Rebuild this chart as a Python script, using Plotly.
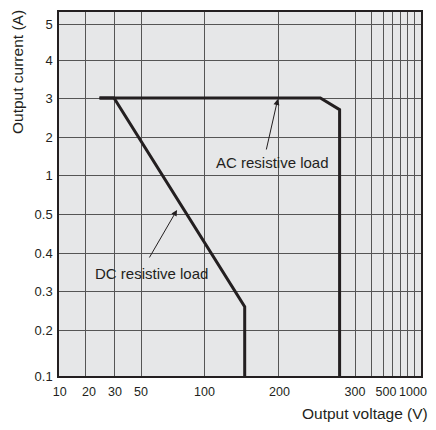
import plotly.graph_objects as go
import numpy as np

# series (V, A)
dc_volts = [25, 30, 155, 155]
dc_amps = [3, 3, 0.26, 0.1]
ac_volts = [25, 255, 280, 280]
ac_amps = [3, 3, 2.7, 0.1]

# the chart uses an irregular scale on both axes: value -> pixel offset on the axis
x_scale_vals = [10, 20, 30, 50, 100, 200, 300, 400, 500, 600, 700, 800, 900, 1000]
x_scale_pos = [0, 26, 55, 82, 145, 219, 296, 312, 324, 333, 341, 348, 355, 362]
x_labels = ["10", "20", "30", "50", "100", "200", "300", "", "500", "", "", "", "", "1000"]
x_label_nudge = [0.7, 4, 1, 0, 0.5, 1.5, 0, 0, 3, 0, 0, 0, 0, -8]

y_scale_vals = [0.1, 0.2, 0.3, 0.4, 0.5, 1, 2, 3, 4, 5]
y_scale_pos = [0, 46, 85, 123, 162, 201, 239, 278, 316, 352]
y_labels = ["0.1", "0.2", "0.3", "0.4", "0.5", "1", "2", "3", "4", "5"]


def xs(v):
    return np.interp(v, x_scale_vals, x_scale_pos)


def ys(v):
    return np.interp(v, y_scale_vals, y_scale_pos)


FONT = "Liberation Sans, Arial, sans-serif"
INK = "#231f20"

fig = go.Figure()
fig.add_trace(go.Scatter(x=xs(dc_volts), y=ys(dc_amps), mode="lines",
                         line=dict(color=INK, width=3), name="DC resistive load",
                         showlegend=False, cliponaxis=False))
fig.add_trace(go.Scatter(x=xs(ac_volts), y=ys(ac_amps), mode="lines",
                         line=dict(color=INK, width=3), name="AC resistive load",
                         showlegend=False, cliponaxis=False))

# arrows + labels
fig.add_annotation(x=float(xs(200)), y=float(ys(3)), ax=-12, ay=53, text="",
                   showarrow=True, arrowhead=2, arrowsize=1.2, arrowwidth=1,
                   arrowcolor=INK, standoff=1)
fig.add_annotation(x=float(xs(192)), y=float(ys(1.32)), text="AC resistive load",
                   showarrow=False, font=dict(family=FONT, size=15, color=INK))
fig.add_annotation(x=float(xs(79)), y=float(ys(0.564)), ax=-29, ay=50, text="",
                   showarrow=True, arrowhead=2, arrowsize=1.2, arrowwidth=1,
                   arrowcolor=INK, standoff=1)
fig.add_annotation(x=float(xs(58.7)), y=float(ys(0.347)), text="DC resistive load",
                   showarrow=False, font=dict(family=FONT, size=15, color=INK))

# axis titles
fig.add_annotation(xref="paper", yref="paper", x=(365 - 59) / 362, y=(376 - 413) / 364,
                   xanchor="center", yanchor="middle",
                   text="Output voltage (V)", showarrow=False,
                   font=dict(family=FONT, size=15.5, color=INK))
fig.add_annotation(xref="paper", yref="paper", x=(18 - 59) / 362, y=(376 - 72) / 364,
                   xanchor="center", yanchor="middle",
                   text="Output current (A)", showarrow=False, textangle=-90,
                   font=dict(family=FONT, size=15.5, color=INK))

# page body has an 8px margin, so the figure is sized to fit inside the window
fig.update_layout(
    width=420, height=414,
    margin=dict(l=51, r=7, t=4, b=46, autoexpand=False),
    paper_bgcolor="white", plot_bgcolor="#e6e7e8",
    font=dict(family=FONT, size=13, color=INK),
    xaxis=dict(range=[0, 362], tickvals=x_scale_pos, showticklabels=False,
               showgrid=True, gridcolor="#555555", gridwidth=1, zeroline=False,
               showline=True, linecolor=INK, linewidth=1.5, mirror=True, ticks=""),
    xaxis2=dict(range=[0, 362], overlaying="x", anchor="y", side="bottom",
                tickvals=[p + n for p, n in zip(x_scale_pos, x_label_nudge)],
                ticktext=x_labels, showgrid=False, zeroline=False, showline=False,
                ticks="", tickangle=0, ticklabelstandoff=6, ticklabeloverflow="allow",
                tickfont=dict(size=12.5, color=INK)),
    yaxis=dict(range=[0, 364], tickvals=y_scale_pos, ticktext=y_labels,
               showgrid=True, gridcolor="#555555", gridwidth=1, zeroline=False,
               showline=True, linecolor=INK, linewidth=1.5, mirror=True, ticks="",
               ticklabelstandoff=2, ticklabeloverflow="allow",
               tickfont=dict(size=13, color=INK)),
)
# dummy trace so xaxis2 is drawn
fig.add_trace(go.Scatter(x=[0], y=[0], xaxis="x2", mode="markers",
                         marker=dict(opacity=0), showlegend=False, hoverinfo="skip"))

fig.write_html("out.html")
